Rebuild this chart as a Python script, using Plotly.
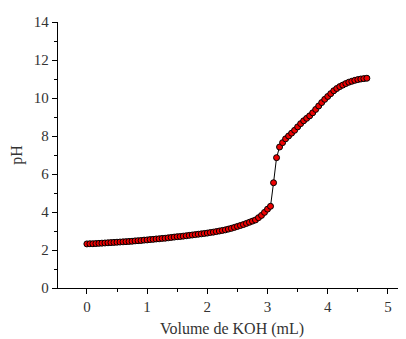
import plotly.graph_objects as go

volume_ml = [0.00, 0.05, 0.10, 0.15, 0.20, 0.25, 0.30, 0.35, 0.40, 0.45,
             0.50, 0.55, 0.60, 0.65, 0.70, 0.75, 0.80, 0.85, 0.90, 0.95,
             1.00, 1.05, 1.10, 1.15, 1.20, 1.25, 1.30, 1.35, 1.40, 1.45,
             1.50, 1.55, 1.60, 1.65, 1.70, 1.75, 1.80, 1.85, 1.90, 1.95,
             2.00, 2.05, 2.10, 2.15, 2.20, 2.25, 2.30, 2.35, 2.40, 2.45,
             2.50, 2.55, 2.60, 2.65, 2.70, 2.75, 2.80, 2.85, 2.90, 2.95,
             3.00, 3.05, 3.10, 3.15, 3.20, 3.25, 3.30, 3.35, 3.40, 3.45,
             3.50, 3.55, 3.60, 3.65, 3.70, 3.75, 3.80, 3.85, 3.90, 3.95,
             4.00, 4.05, 4.10, 4.15, 4.20, 4.25, 4.30, 4.35, 4.40, 4.45,
             4.50, 4.55, 4.60, 4.65]

ph_values = [2.32, 2.33, 2.33, 2.34, 2.35, 2.36, 2.37, 2.38, 2.39, 2.40,
             2.41, 2.42, 2.43, 2.44, 2.45, 2.46, 2.48, 2.49, 2.50, 2.52,
             2.53, 2.55, 2.56, 2.58, 2.59, 2.61, 2.62, 2.64, 2.66, 2.68,
             2.70, 2.71, 2.73, 2.75, 2.77, 2.79, 2.81, 2.83, 2.85, 2.87,
             2.89, 2.92, 2.94, 2.97, 3.00, 3.03, 3.06, 3.10, 3.14, 3.19,
             3.24, 3.29, 3.34, 3.40, 3.46, 3.52, 3.58, 3.70, 3.82, 3.98,
             4.15, 4.30, 5.54, 6.86, 7.42, 7.65, 7.85, 8.00, 8.15, 8.30,
             8.48, 8.65, 8.80, 8.93, 9.06, 9.22, 9.40, 9.58, 9.76, 9.93,
             10.08, 10.23, 10.38, 10.50, 10.60, 10.68, 10.76, 10.83, 10.88, 10.93,
             10.97, 11.00, 11.02, 11.04]

x_ticks = [0, 1, 2, 3, 4, 5]
y_ticks = [0, 2, 4, 6, 8, 10, 12, 14]

font_family = "Liberation Serif, Times New Roman, serif"

fig = go.Figure()
fig.add_trace(go.Scatter(
    x=volume_ml, y=ph_values, mode="lines+markers",
    line=dict(color="black", width=1),
    marker=dict(symbol="circle", size=6, color="#ee0000",
                line=dict(color="black", width=1)),
    showlegend=False,
))

axis_common = dict(
    showline=True, linecolor="black", linewidth=1.3,
    ticks="outside", ticklen=5, tickwidth=1.3, tickcolor="black",
    showgrid=False, zeroline=False, mirror=False,
    tickfont=dict(family=font_family, size=15, color="#333333"),
)

fig.update_layout(
    width=398, height=331,
    margin=dict(l=50, r=0, t=14, b=51),
    paper_bgcolor="white", plot_bgcolor="white",
    font=dict(family=font_family, color="#333333"),
    xaxis=dict(
        range=[-0.48, 5.3], tickvals=x_ticks,
        minor=dict(ticks="outside", ticklen=3, tickwidth=1.3, tickcolor="black", dtick=0.5, tick0=0),
        title=dict(text="Volume de KOH (mL)", font=dict(family=font_family, size=16, color="#333333"), standoff=8),
        **axis_common,
    ),
    yaxis=dict(
        range=[0, 14], tickvals=y_ticks,
        minor=dict(ticks="outside", ticklen=3, tickwidth=1.3, tickcolor="black", dtick=1, tick0=0),
        title=dict(text="pH", font=dict(family=font_family, size=16, color="#333333"), standoff=10),
        **axis_common,
    ),
)

fig.write_html("out.html")
